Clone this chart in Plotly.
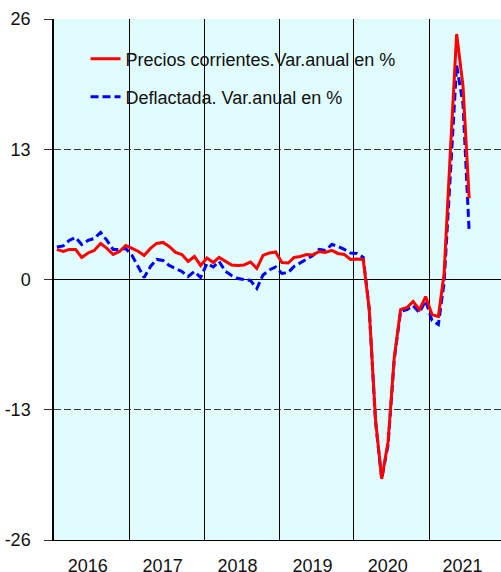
import pandas as pd
import plotly.graph_objects as go

# Monthly data, Jan 2016 - Jul 2021
start_month = "2016-01-01"
n_months = 67

precios_corrientes = [
    3.0, 2.8, 3.0, 3.0, 2.2, 2.65, 2.9, 3.6, 3.1, 2.5, 2.8, 3.4,      # 2016
    3.1, 2.8, 2.4, 3.1, 3.6, 3.7, 3.3, 2.7, 2.5, 1.8, 2.3, 1.4,       # 2017
    2.15, 1.7, 2.2, 1.8, 1.45, 1.4, 1.45, 1.75, 1.1, 2.4, 2.65, 2.75, # 2018
    1.7, 1.65, 2.2, 2.3, 2.5, 2.45, 2.8, 2.7, 2.9, 2.6, 2.5, 2.0,     # 2019
    2.05, 2.0, -2.9, -14.0, -19.9, -16.2, -7.8, -3.0, -2.8, -2.2, -3.0, -1.7,  # 2020
    -3.5, -3.7, 0.6, 13.0, 24.5, 19.3, 8.1,                            # 2021
]

deflactada = [
    3.25, 3.35, 3.9, 4.2, 3.5, 3.9, 4.1, 4.7, 3.9, 3.0, 3.0, 3.1,     # 2016
    2.4, 1.2, 0.2, 1.3, 2.0, 1.9, 1.4, 1.1, 0.8, 0.3, 0.8, 0.2,       # 2017
    1.6, 1.25, 1.8, 0.8, 0.4, 0.1, 0.0, -0.1, -0.9, 0.45, 0.95, 1.25, # 2018
    0.6, 0.7, 1.3, 1.65, 2.0, 2.4, 3.0, 2.9, 3.5, 3.3, 3.0, 2.65,     # 2019
    2.6, 2.2, -2.9, -14.2, -19.9, -16.5, -8.0, -3.2, -3.0, -2.6, -3.3, -2.1,  # 2020
    -4.1, -4.5, -0.3, 11.0, 21.4, 17.5, 4.75,                          # 2021
]

years = [2016, 2017, 2018, 2019, 2020, 2021]
year_labels = ["2016", "2017", "2018", "2019", "2020", "2021"]
y_ticks = [-26, -13, 0, 13, 26]
y_tick_labels = ["-26", "-13", "0", "13", "26"]

name_red = "Precios corrientes.Var.anual en %"
name_blue = "Deflactada. Var.anual en %"

# mid-month positions
dates = pd.date_range(start_month, periods=n_months, freq="MS") + pd.Timedelta(days=14)

FONT = "Liberation Sans, Arial, sans-serif"

fig = go.Figure()
fig.add_trace(go.Scatter(
    x=dates, y=deflactada, mode="lines", name=name_blue,
    line=dict(color="#0000FF", width=3, dash="8px,4px"), legend="legend2",
))
fig.add_trace(go.Scatter(
    x=dates, y=precios_corrientes, mode="lines", name=name_red,
    line=dict(color="#FF0000", width=3), legend="legend",
))

fig.update_layout(
    width=501, height=572,
    margin=dict(l=54, r=0, t=19, b=32),
    paper_bgcolor="white",
    plot_bgcolor="#E0FCFC",
    font=dict(family=FONT, size=18, color="#111111"),
    showlegend=True,
    legend=dict(x=0.0705, y=0.923, xanchor="left", yanchor="middle",
                bgcolor="rgba(0,0,0,0)", font=dict(size=18, family=FONT)),
    legend2=dict(x=0.0705, y=0.850, xanchor="left", yanchor="middle",
                 bgcolor="rgba(0,0,0,0)", font=dict(size=18, family=FONT)),
)

tick_pos = [pd.Timestamp(f"{y}-06-13") for y in years]
fig.update_xaxes(
    type="date", automargin=False,
    range=[pd.Timestamp("2016-01-01"), pd.Timestamp("2021-12-17")],
    tickmode="array", tickvals=tick_pos, ticktext=year_labels,
    ticks="", showgrid=False, zeroline=False,
    showline=True, linecolor="black", linewidth=1, mirror=False,
    ticklabelstandoff=9,
    minor=dict(tickmode="array",
               tickvals=[pd.Timestamp(f"{y}-01-01") for y in years[1:]],
               showgrid=True, gridcolor="black", gridwidth=1, ticks=""),
    tickfont=dict(size=18, color="#111111"),
)
fig.update_yaxes(
    automargin=False,
    range=[-26, 26],
    tickmode="array", tickvals=y_ticks, ticktext=y_tick_labels,
    ticks="outside", ticklen=8, tickcolor="#333333", tickwidth=1,
    showgrid=True, gridcolor="#383838", gridwidth=1, griddash="7px,3px",
    zeroline=True, zerolinecolor="black", zerolinewidth=1,
    showline=True, linecolor="black", linewidth=1.5,
    ticklabelstandoff=10,
    tickfont=dict(size=18, color="#111111"),
)

fig.write_html(
    "out.html",
    config={"displayModeBar": False},
    post_script="document.body.style.margin='0';document.body.style.overflow='hidden';",
)
